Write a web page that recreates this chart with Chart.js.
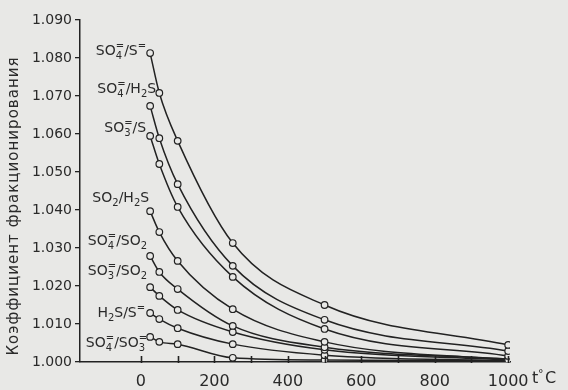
<!DOCTYPE html>
<html>
<head>
<meta charset="utf-8">
<script src="https://cdn.jsdelivr.net/npm/chart.js@4.4.1/dist/chart.umd.min.js"></script>
<style>
    html, body { margin: 0; padding: 0; background: #e8e8e6; }
    canvas { display: block; }
</style>
</head>
<body>
<canvas id="myChart" width="568" height="390"></canvas>
<script>
// temperatures, °C
var temps = [25, 50, 100, 250, 500, 1000];

// fractionation factors
var so4_s   = [1.0813, 1.0708, 1.0582, 1.0313, 1.0150, 1.0045];
var so4_h2s = [1.0674, 1.0589, 1.0468, 1.0253, 1.0111, 1.0029];
var so3_s   = [1.0595, 1.0521, 1.0408, 1.0224, 1.0087, 1.0016];
var so2_h2s = [1.0397, 1.0342, 1.0266, 1.0139, 1.0053, 1.0005];
var so4_so2 = [1.0279, 1.0237, 1.0192, 1.0095, 1.0039, 1.0008];
var so3_so2 = [1.0197, 1.0174, 1.0137, 1.0079, 1.0032, 1.0005];
var h2s_s   = [1.0129, 1.0113, 1.0089, 1.0047, 1.0018, 1.0003];
var so4_so3 = [1.0066, 1.0053, 1.0047, 1.0011, 1.0005, 1.0003];

// curve names: _x subscript, ^x superscript
var names = ["SO_4^=/S^=", "SO_4^=/H_2S", "SO_3^=/S", "SO_2/H_2S",
             "SO_4^=/SO_2", "SO_3^=/SO_2", "H_2S/S^=", "SO_4^=/SO_3^="];
var series = [so4_s, so4_h2s, so3_s, so2_h2s, so4_so2, so3_so2, h2s_s, so4_so3];

var xTickValues = [0, 100, 200, 300, 400, 500, 600, 700, 800, 900, 1000];
var yTitle = "Коэффициент фракционирования";

var ink = "#222";
var paper = "#e8e8e6";
var fontName = "'DejaVu Sans', sans-serif";

// label offsets from first point of each curve [dx of right edge, dy of centre]
var labelOffsets = [[-4, -3], [6, -18], [-4, -9], [-1, -14], [-3, -16], [-3, -17], [-5, -1], [-3, 5]];

function drawRich(ctx, str, right, cy, size) {
    var parts = [];
    for (var i = 0; i < str.length; i++) {
        var c = str[i];
        if (c === "_" || c === "^") {
            var key = c === "_" ? "sub" : "sup";
            var last = parts[parts.length - 1];
            if (last && last.script && !last[key]) last[key] = str[++i];
            else { var p = {script: true}; p[key] = str[++i]; parts.push(p); }
        } else {
            parts.push({t: c});
        }
    }
    var big = size + "px " + fontName;
    var small = Math.round(size * 0.68) + "px " + fontName;
    var w = 0;
    parts.forEach(function (p) {
        if (p.script) {
            ctx.font = small;
            p.w = Math.max(p.sub ? ctx.measureText(p.sub).width : 0, p.sup ? ctx.measureText(p.sup).width : 0);
        } else {
            ctx.font = big;
            p.w = ctx.measureText(p.t).width;
        }
        w += p.w;
    });
    var x = right - w;
    var base = cy + size * 0.36;
    ctx.textAlign = "left";
    ctx.textBaseline = "alphabetic";
    parts.forEach(function (p) {
        if (p.script) {
            ctx.font = small;
            if (p.sub) ctx.fillText(p.sub, x, base + size * 0.3);
            if (p.sup) ctx.fillText(p.sup, x, base - size * 0.42);
        } else {
            ctx.font = big;
            ctx.fillText(p.t, x, base);
        }
        x += p.w;
    });
}

var paperPlugin = {
    id: "paper",
    beforeDraw: function (chart) {
        var ctx = chart.ctx;
        ctx.save();
        ctx.fillStyle = paper;
        ctx.fillRect(0, 0, chart.width, chart.height);
        ctx.restore();
    }
};

var decorPlugin = {
    id: "decor",
    afterDraw: function (chart) {
        var ctx = chart.ctx, xs = chart.scales.x, a = chart.chartArea;
        ctx.save();
        // x ticks pointing up into the plot
        ctx.strokeStyle = ink;
        ctx.lineWidth = 1.6;
        ctx.setLineDash([]);
        ctx.beginPath();
        xTickValues.forEach(function (v) {
            var px = Math.round(xs.getPixelForValue(v)) + 0.5;
            ctx.moveTo(px, a.bottom + 1);
            ctx.lineTo(px, a.bottom - 6);
        });
        ctx.stroke();
        ctx.fillStyle = "#2a2a2a";
        // curve labels
        chart.data.datasets.forEach(function (ds, i) {
            var pt = chart.getDatasetMeta(i).data[0];
            drawRich(ctx, names[i], pt.x + labelOffsets[i][0], pt.y + labelOffsets[i][1], 14);
        });
        // x title  t°C
        ctx.textBaseline = "middle";
        ctx.textAlign = "left";
        ctx.font = "16px " + fontName;
        ctx.fillText("t", a.right + 22, a.bottom + 17);
        ctx.font = "11px " + fontName;
        ctx.fillText("°", a.right + 28, a.bottom + 12);
        ctx.font = "16px " + fontName;
        ctx.fillText("C", a.right + 35, a.bottom + 17);
        // y title
        ctx.translate(14, (a.top + a.bottom) / 2 + 15);
        ctx.rotate(-Math.PI / 2);
        ctx.font = "15px " + fontName;
        ctx.textAlign = "center";
        var natural = ctx.measureText(yTitle).width;
        var sp = Math.max(0, (298 - natural) / (yTitle.length - 1));
        ctx.letterSpacing = sp.toFixed(2) + "px";
        ctx.fillText(yTitle, 0, 0);
        ctx.restore();
    }
};

var datasets = series.map(function (vals, i) {
    return {
        label: names[i],
        data: temps.map(function (t, j) { return {x: t, y: vals[j]}; }),
        borderColor: ink,
        borderWidth: 1.5,
        pointRadius: 3.3,
        pointBorderWidth: 1.2,
        pointBorderColor: ink,
        pointBackgroundColor: paper,
        cubicInterpolationMode: "monotone",
        fill: false
    };
});

var config = {
    type: "line",
    data: {datasets: datasets},
    options: {
        responsive: false,
        animation: false,
        layout: {padding: {left: 0, top: 20, right: 58, bottom: 0}},
        plugins: {legend: {display: false}, tooltip: {enabled: false}},
        scales: {
            x: {
                type: "linear",
                min: -166,
                max: 1005,
                afterBuildTicks: function (scale) {
                    scale.ticks = xTickValues.filter(function (v) { return v % 200 === 0; })
                        .map(function (v) { return {value: v}; });
                },
                afterFit: function (scale) { scale.height = 28; },
                grid: {display: false},
                border: {display: true, color: ink, width: 1.5},
                ticks: {
                    color: "#2a2a2a",
                    font: {family: fontName, size: 16},
                    padding: 2,
                    maxRotation: 0,
                    callback: function (v) { return String(v); }
                }
            },
            y: {
                min: 1.0,
                max: 1.09,
                afterFit: function (scale) { scale.width = 80; },
                grid: {drawOnChartArea: false, drawTicks: true, tickLength: 5, color: ink, lineWidth: 1.3},
                border: {display: true, color: ink, width: 1.5},
                ticks: {
                    stepSize: 0.01,
                    color: "#2a2a2a",
                    padding: 3,
                    font: {family: fontName, size: 14},
                    callback: function (v) { return v.toFixed(3); }
                }
            }
        }
    },
    plugins: [paperPlugin, decorPlugin]
};

var myChart = new Chart(document.getElementById("myChart"), config);
</script>
</body>
</html>
